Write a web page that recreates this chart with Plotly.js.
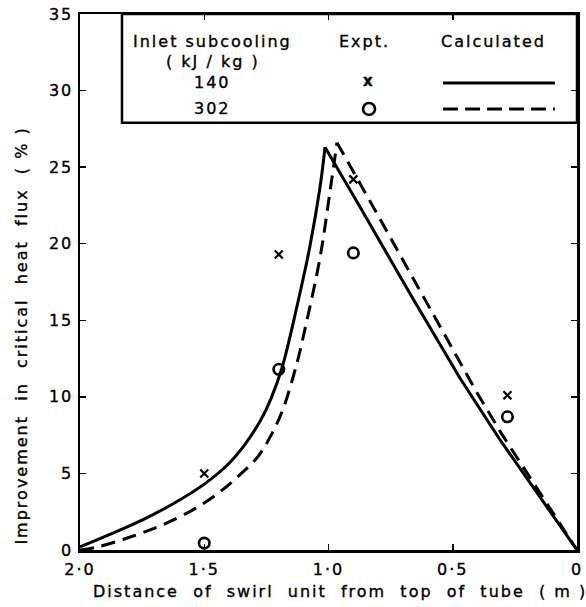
<!DOCTYPE html>
<html>
<head>
<meta charset="utf-8">
<script src="https://cdn.plot.ly/plotly-3.0.1.min.js"></script>
<style>
html, body { margin: 0; padding: 0; background: #fff; }
#chart { width: 586px; height: 607px; }
.main-svg text { letter-spacing: 2px; stroke: #000; stroke-width: 0.35px; }
</style>
</head>
<body>
<div id="chart"></div>
<script>
// ---- Data ----
// Calculated curve, inlet subcooling 140 kJ/kg (solid); peak at index 13
const calc140X = [2.0, 1.875, 1.738, 1.606, 1.50, 1.404, 1.336, 1.272, 1.231, 1.187, 1.127, 1.074, 1.034, 1.014, 0.873, 0.66, 0.47, 0.31, 0.0];
const calc140Y = [0.2, 1.05, 2.05, 3.2, 4.3, 5.6, 6.9, 8.5, 9.9, 11.9, 15.9, 19.9, 23.7, 26.3, 22.4, 16.4, 11.2, 7.2, 0.0];
// Calculated curve, inlet subcooling 302 kJ/kg (dashed); peak at index 13
const calc302X = [2.0, 1.93, 1.807, 1.674, 1.537, 1.445, 1.364, 1.284, 1.231, 1.183, 1.127, 1.095, 1.034, 0.994, 0.966, 0.813, 0.40, 0.30, 0.0];
const calc302Y = [0.0, 0.2, 0.8, 1.6, 2.7, 3.7, 4.8, 6.1, 7.5, 9.2, 12.2, 14.4, 19.1, 23.4, 26.6, 22.2, 10.2, 7.5, 0.0];
const peak140 = 13;
const peak302 = 14;
// Experimental points
const expt140X = [1.5, 1.2, 0.9, 0.28];
const expt140Y = [5.0, 19.3, 24.2, 10.1];
const expt302X = [1.5, 1.2, 0.9, 0.28];
const expt302Y = [0.45, 11.8, 19.4, 8.7];
// Axis ticks
const xTickVals = [2.0, 1.5, 1.0, 0.5, 0];
const xTickText = ['2·0', '1·5', '1·0', '0·5', '0'];
const yTickVals = [0, 5, 10, 15, 20, 25, 30, 35];

const FONT = 'DejaVu Sans, sans-serif';
const solid = { color: '#000', width: 3 };
const dashed = { color: '#000', width: 3, dash: '14px,8px' };

const traces = [
  // rising branches drawn smooth, falling branches straight
  { x: calc140X.slice(0, peak140 + 1), y: calc140Y.slice(0, peak140 + 1), type: 'scatter', mode: 'lines',
    line: Object.assign({ shape: 'spline', smoothing: 1.0 }, solid) },
  { x: calc140X.slice(peak140), y: calc140Y.slice(peak140), type: 'scatter', mode: 'lines', line: solid },
  { x: calc302X.slice(0, peak302 + 1), y: calc302Y.slice(0, peak302 + 1), type: 'scatter', mode: 'lines',
    line: Object.assign({ shape: 'spline', smoothing: 1.0 }, dashed) },
  { x: calc302X.slice(peak302), y: calc302Y.slice(peak302), type: 'scatter', mode: 'lines', line: dashed },
  { x: expt140X, y: expt140Y, type: 'scatter', mode: 'markers',
    marker: { symbol: 'x-thin-open', size: 8, color: '#000', line: { color: '#000', width: 2.2 } },
    cliponaxis: false },
  { x: expt302X, y: expt302Y, type: 'scatter', mode: 'markers',
    marker: { symbol: 'circle-open', size: 10.5, color: '#000', line: { color: '#000', width: 2.6 } },
    cliponaxis: false }
];

const axisCommon = {
  showline: true, linecolor: '#000', linewidth: 2.5, mirror: 'ticks',
  ticks: 'inside', ticklen: 6, tickwidth: 1.5, tickcolor: '#000',
  showgrid: false, zeroline: false, fixedrange: true,
  tickfont: { family: FONT, size: 16, color: '#000' }
};

const layout = {
  width: 586, height: 607,
  margin: { l: 80, r: 9, t: 14, b: 57 },
  paper_bgcolor: '#fff', plot_bgcolor: '#fff',
  showlegend: false,
  xaxis: Object.assign({}, axisCommon, {
    range: [2.0, 0], autorange: false, ticklabelstandoff: 3,
    tickmode: 'array', tickvals: xTickVals, ticktext: xTickText
  }),
  yaxis: Object.assign({}, axisCommon, {
    range: [0, 35], autorange: false, ticklabelstandoff: 1,
    tickmode: 'array', tickvals: yTickVals
  }),
  shapes: [
    { type: 'rect', xref: 'x', yref: 'y', x0: 1.831, x1: 0, y0: 27.9, y1: 35,
      line: { color: '#000', width: 2.5 }, fillcolor: 'rgba(0,0,0,0)' },
    { type: 'line', xref: 'x', yref: 'y', x0: 0.539, x1: 0.089, y0: 30.5, y1: 30.5,
      line: { color: '#000', width: 3 } },
    { type: 'line', xref: 'x', yref: 'y', x0: 0.539, x1: 0.089, y0: 28.8, y1: 28.8,
      line: { color: '#000', width: 3, dash: '15px,7px' } },
    { type: 'circle', xref: 'x', yref: 'y', xsizemode: 'pixel', ysizemode: 'pixel',
      xanchor: 0.837, yanchor: 28.8, x0: -6, x1: 6, y0: -6, y1: 6,
      line: { color: '#000', width: 2.6 } }
  ],
  annotations: [
    { xref: 'paper', yref: 'paper', x: 0.523, y: -0.0765, xanchor: 'center', yanchor: 'middle',
      text: 'Distance  of  swirl  unit  from  top  of  tube  ( m )', showarrow: false,
      font: { family: FONT, size: 16, color: '#000' } },
    { xref: 'paper', yref: 'paper', x: -0.1167, y: 0.40, xanchor: 'center', yanchor: 'middle',
      textangle: -90, text: 'Improvement  in  critical  heat  flux  ( % )', showarrow: false,
      font: { family: FONT, size: 16, color: '#000' } },
    { xref: 'x', yref: 'y', x: 1.465, y: 33.18, text: 'Inlet subcooling', showarrow: false,
      font: { family: FONT, size: 16, color: '#000' } },
    { xref: 'x', yref: 'y', x: 1.465, y: 31.87, text: '( kJ / kg )', showarrow: false,
      font: { family: FONT, size: 16, color: '#000' } },
    { xref: 'x', yref: 'y', x: 1.465, y: 30.5, text: '140', showarrow: false,
      font: { family: FONT, size: 16, color: '#000' } },
    { xref: 'x', yref: 'y', x: 1.465, y: 28.8, text: '302', showarrow: false,
      font: { family: FONT, size: 16, color: '#000' } },
    { xref: 'x', yref: 'y', x: 0.857, y: 33.18, text: 'Expt.', showarrow: false,
      font: { family: FONT, size: 16, color: '#000' } },
    { xref: 'x', yref: 'y', x: 0.837, y: 30.6, text: '<b>x</b>', showarrow: false,
      font: { family: FONT, size: 15, color: '#000' } },
    { xref: 'x', yref: 'y', x: 0.338, y: 33.18, text: 'Calculated', showarrow: false,
      font: { family: FONT, size: 16, color: '#000' } }
  ]
};

Plotly.newPlot('chart', traces, layout, { displayModeBar: false, staticPlot: true });
</script>
</body>
</html>
